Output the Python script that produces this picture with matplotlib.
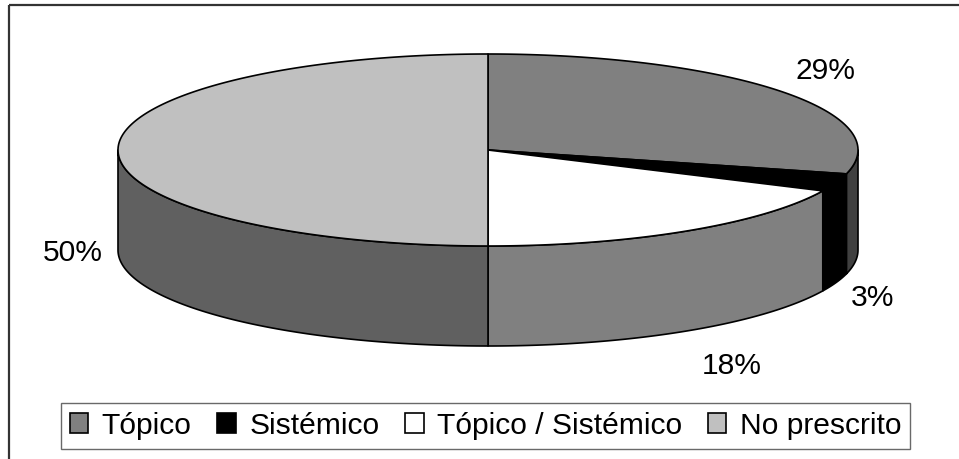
import numpy as np
import matplotlib
matplotlib.use("Agg")
import matplotlib.pyplot as plt
from matplotlib.patches import Polygon, Patch

plt.rcParams["font.family"] = ["Liberation Sans", "DejaVu Sans"]

# share of patients by treatment type (%)
categories = ["Tópico", "Sistémico", "Tópico / Sistémico", "No prescrito"]
shares = [29, 3, 18, 50]
top_colors = ["#808080", "#000000", "#ffffff", "#c0c0c0"]

W, H = 959, 459
fig = plt.figure(figsize=(W / 100, H / 100), dpi=100)
ax = fig.add_axes([0, 0, 1, 1])
ax.set_xlim(0, W)
ax.set_ylim(H, 0)
ax.axis("off")

# pie geometry in pixel units
cx, cy = 488, 150
rx, ry = 370, 96
depth = 100
lw = 1.2


def rim(t0, t1, dy=0.0, n=200):
    t = np.radians(np.linspace(t0, t1, n))
    return np.column_stack([cx + rx * np.cos(t), cy - ry * np.sin(t) + dy])


def darker(c, f=0.5):
    r, g, b = matplotlib.colors.to_rgb(c)
    return (r * f, g * f, b * f)


# slices run clockwise from 12 o'clock
fracs = np.array(shares) / sum(shares)
edges = 90 - 360 * np.concatenate([[0], np.cumsum(fracs)])

# side walls (only the front half, -180..0 degrees, is visible)
for i, c in enumerate(top_colors):
    a_start, a_end = edges[i], edges[i + 1]
    lo, hi = max(a_end, -180), min(a_start, 0)
    if lo >= hi:
        continue
    top = rim(hi, lo)
    bot = rim(lo, hi, dy=depth)
    ax.add_patch(Polygon(np.vstack([top, bot]), closed=True,
                         facecolor=darker(c), edgecolor="black", lw=lw,
                         joinstyle="round"))

# top faces
for i, c in enumerate(top_colors):
    arc = rim(edges[i], edges[i + 1])
    pts = np.vstack([[cx, cy], arc])
    ax.add_patch(Polygon(pts, closed=True, facecolor=c, edgecolor="black",
                         lw=lw, joinstyle="round"))

# percentage labels just outside the rim
for i, v in enumerate(shares):
    m = (edges[i] + edges[i + 1]) / 2
    mr = np.radians(m)
    front = np.sin(mr) <= 1e-9
    x0, y0 = rim(m, m, dy=depth if front else 0, n=1)[0]
    gap = 15
    if np.cos(mr) > 0.05:
        ha, x = "left", x0 + gap
    elif np.cos(mr) < -0.05:
        ha, x = "right", x0 - gap
    else:
        ha, x = "center", x0
    y = y0 - 38 * np.sin(mr)
    ax.text(x, y, f"{v}%", fontsize=21.6, ha=ha, va="center_baseline",
            color="black")

# chart frame: only top and left edges fall inside the image
ax.plot([9, W], [5, 5], color="#333333", lw=1.6, solid_capstyle="butt")
ax.plot([9, 9], [5, H], color="#333333", lw=1.6, solid_capstyle="butt")

handles = [Patch(facecolor=c, edgecolor="black", lw=1.2) for c in top_colors]
leg = fig.legend(handles, categories, loc="center",
                 bbox_to_anchor=(485.5 / W, 1 - 425.5 / H), ncol=4,
                 fontsize=21.6, handlelength=0.62, handleheight=0.62,
                 handletextpad=0.45, columnspacing=0.85, borderpad=0.3,
                 borderaxespad=0, frameon=True, fancybox=False)
leg.get_frame().set_edgecolor("#444444")
leg.get_frame().set_linewidth(1.0)

fig.savefig("out.png", dpi=100)
